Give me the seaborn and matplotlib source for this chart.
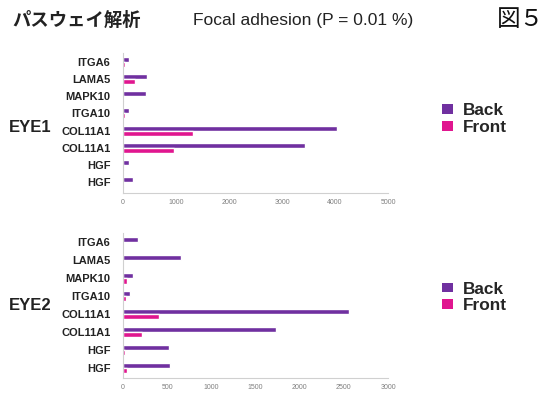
import matplotlib
matplotlib.use("Agg")
import matplotlib.pyplot as plt
import seaborn as sns
import pandas as pd
from matplotlib.patches import Patch

sns.set_style("white")
plt.rcParams["font.family"] = ["Liberation Sans", "Noto Sans CJK JP", "DejaVu Sans"]

genes = ["ITGA6", "LAMA5", "MAPK10", "ITGA10", "COL11A1", "COL11A1", "HGF", "HGF"]

eye1_back = [120, 450, 432, 120, 4035, 3430, 110, 185]
eye1_front = [45, 220, 15, 45, 1330, 970, 10, 10]

eye2_back = [170, 660, 115, 75, 2560, 1730, 520, 535]
eye2_front = [5, 5, 45, 30, 405, 210, 25, 50]

series_names = ["Back", "Front"]
palette = {"Back": "#7030A0", "Front": "#E0168F"}


def long_table(back, front):
    rows = []
    for i, g in enumerate(genes):
        rows.append({"row": str(i), "gene": g, "side": "Back", "value": back[i]})
        rows.append({"row": str(i), "gene": g, "side": "Front", "value": front[i]})
    return pd.DataFrame(rows)


W, H = 550, 394
fig = plt.figure(figsize=(W / 100, H / 100), dpi=100)

# (data, axes rect, x max, x step, y-limit bottom, panel name, name y, legend centre y)
panels = [
    (long_table(eye1_back, eye1_front), [123 / W, 1 - 193 / H, 265 / W, 139.6 / H],
     5000, 1000, 7.64, "EYE1", 127, 119),
    (long_table(eye2_back, eye2_front), [123 / W, 1 - 378 / H, 265 / W, 144.5 / H],
     3000, 500, 7.56, "EYE2", 305, 297.5),
]

for df, rect, xmax, step, ybot, name, name_y, leg_y in panels:
    ax = fig.add_axes(rect)
    sns.barplot(data=df, x="value", y="row", hue="side", hue_order=series_names,
                order=[str(i) for i in range(len(genes))], palette=palette,
                orient="h", width=0.58, ax=ax, legend=False, saturation=1)
    ax.set_xlim(0, xmax)
    ax.set_ylim(ybot, -0.5)
    ax.set_xticks(range(0, xmax + 1, step))
    ax.set_xticklabels([str(v) for v in range(0, xmax + 1, step)],
                       fontsize=5, color="#7f7f7f")
    ax.set_yticks(range(len(genes)))
    ax.set_yticklabels(genes, fontsize=8, fontweight="bold", color="#222222")
    ax.set_xlabel("")
    ax.set_ylabel("")
    for s in ["top", "right"]:
        ax.spines[s].set_visible(False)
    for s in ["left", "bottom"]:
        ax.spines[s].set_color("#d0d0d0")
        ax.spines[s].set_linewidth(0.8)
    ax.tick_params(axis="x", length=2, color="#d0d0d0", pad=2)
    ax.tick_params(axis="y", length=0, pad=9)

    fig.text(51 / W, 1 - name_y / H, name, fontsize=12, fontweight="bold",
             va="center", ha="right", color="#222222")

    handles = [Patch(facecolor=palette[s], edgecolor="none") for s in series_names]
    ax.legend(handles, series_names, loc="center left",
              bbox_to_anchor=(442 / W, 1 - leg_y / H),
              bbox_transform=fig.transFigure, frameon=False,
              prop={"size": 12.4, "weight": "bold"}, handlelength=0.64,
              handleheight=0.5, handletextpad=0.58, labelspacing=0.1,
              borderpad=0, borderaxespad=0)

fig.text(12 / W, 1 - 20 / H, "パスウェイ解析", fontsize=13.2, fontweight="bold",
         family=["Noto Sans CJK JP"], va="center", ha="left", color="#222222")
fig.text(193 / W, 1 - 20 / H, "Focal adhesion (P = 0.01 %)", fontsize=12.5,
         va="center", ha="left", color="#222222")
fig.text(497 / W, 1 - 20 / H, "図５", fontsize=17,
         family=["Noto Sans CJK JP"], va="center", ha="left", color="#111111")

fig.savefig("out.png", dpi=100)
